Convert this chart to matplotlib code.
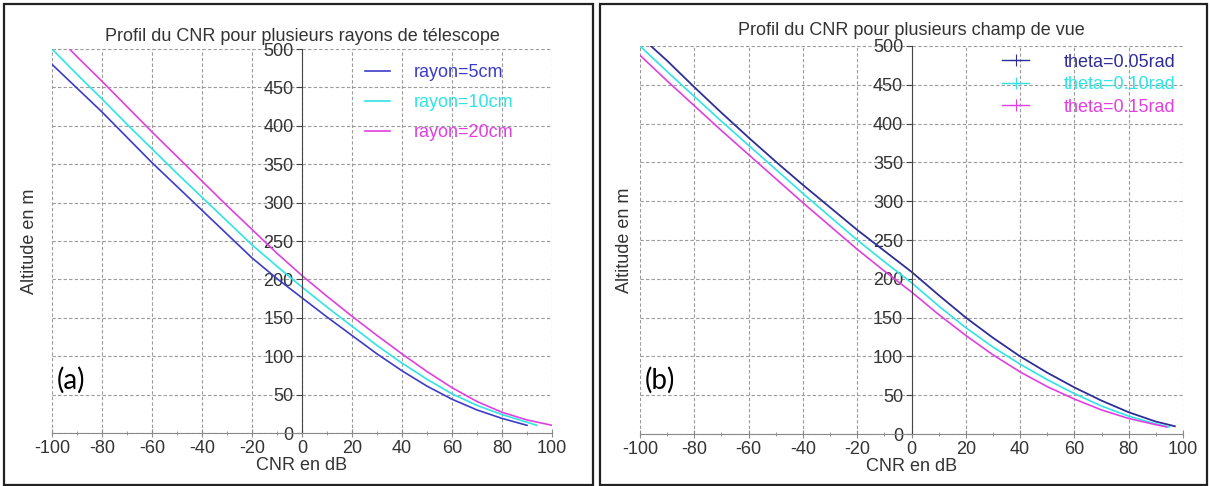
import matplotlib.pyplot as plt
from matplotlib.patches import Rectangle
from matplotlib.lines import Line2D
from matplotlib.ticker import MultipleLocator

plt.rcParams['font.family'] = ['Liberation Sans', 'DejaVu Sans']
plt.rcParams['axes.unicode_minus'] = False

# ---- data (CNR in dB, altitude in m) ----
# panel (a): telescope radius
cnr_r5 = [-100, -90, -80, -70, -60, -50, -40, -30, -20, -10, 0, 10, 20, 30, 40, 50, 60, 70, 80, 90]
alt_r5 = [480, 449, 418, 385, 352, 321, 290, 259, 228, 201, 176, 151, 127, 103, 81, 61, 44, 30, 19, 10]
cnr_r10 = [-100, -90, -80, -70, -60, -50, -40, -30, -20, -10, 0, 10, 20, 30, 40, 50, 60, 70, 80, 90, 94]
alt_r10 = [500, 467, 435, 402, 370, 338, 307, 276, 245, 217, 190, 164, 139, 114, 91, 70, 51, 36, 24, 14, 10]
cnr_r20 = [-93, -90, -80, -70, -60, -50, -40, -30, -20, -10, 0, 10, 20, 30, 40, 50, 60, 70, 80, 90, 100]
alt_r20 = [500, 490, 458, 425, 392, 360, 328, 296, 265, 234, 205, 178, 152, 127, 103, 80, 59, 41, 27, 17, 10]

# panel (b): field of view
cnr_t05 = [-96, -90, -80, -70, -60, -50, -40, -30, -20, -10, 0, 10, 20, 30, 40, 50, 60, 70, 80, 90, 97]
alt_t05 = [500, 481, 447, 414, 382, 351, 321, 292, 263, 236, 209, 179, 150, 124, 100, 79, 60, 43, 28, 16, 10]
cnr_t10 = [-100, -90, -80, -70, -60, -50, -40, -30, -20, -10, 0, 10, 20, 30, 40, 50, 60, 70, 80, 90, 95]
alt_t10 = [500, 467, 435, 403, 372, 341, 310, 280, 250, 222, 195, 165, 137, 112, 90, 70, 52, 36, 23, 13, 9]
cnr_t15 = [-100, -90, -80, -70, -60, -50, -40, -30, -20, -10, 0, 10, 20, 30, 40, 50, 60, 70, 80, 90, 94]
alt_t15 = [488, 455, 423, 391, 360, 329, 298, 268, 238, 210, 183, 154, 127, 102, 80, 61, 45, 31, 20, 12, 9]

labels_a = ['rayon=5cm', 'rayon=10cm', 'rayon=20cm']
labels_b = ['theta=0.05rad', 'theta=0.10rad', 'theta=0.15rad']
colors_a = ['#3c3cc8', '#30e4e4', '#e040e0']
colors_b = ['#2e2e96', '#30e4e4', '#e040e0']

xticks = list(range(-100, 101, 20))
yticks = list(range(0, 501, 50))

text_col = '#333333'
fs = 13


def setup_axes(ax, title, title_pad):
    ax.set_xlim(-100, 100)
    ax.set_ylim(0, 500)
    ax.set_xticks(xticks)
    ax.set_yticks(yticks)
    ax.xaxis.set_minor_locator(MultipleLocator(10))
    ax.grid(True, which='major', color='#9a9a9a', linestyle=(0, (3, 2)), linewidth=0.8)
    ax.set_axisbelow(True)
    ax.spines['top'].set_visible(False)
    ax.spines['right'].set_visible(False)
    ax.spines['left'].set_position(('data', 0))
    ax.spines['left'].set_color('#444444')
    ax.spines['bottom'].set_color('#8a8a8a')
    ax.tick_params(axis='y', direction='out', length=4, colors='#444444',
                   labelcolor=text_col, labelsize=fs, pad=2)
    ax.tick_params(axis='x', direction='inout', length=6, colors='#8a8a8a',
                   labelcolor=text_col, labelsize=fs, pad=2)
    ax.tick_params(axis='x', which='minor', direction='inout', length=3, colors='#8a8a8a')
    ax.set_title(title, fontsize=fs, color=text_col, pad=title_pad)
    ax.set_xlabel('CNR en dB', fontsize=fs, color=text_col, labelpad=0)
    ax.set_ylabel('Altitude en m', fontsize=fs, color=text_col)


fig = plt.figure(figsize=(12.1, 4.86), dpi=100)

# table cell borders
fig.add_artist(Rectangle((4 / 1210, 1 / 486), 589 / 1210, 481 / 486, transform=fig.transFigure,
                         fill=False, edgecolor='#222222', linewidth=1.6))
fig.add_artist(Rectangle((600 / 1210, 1 / 486), 607 / 1210, 481 / 486, transform=fig.transFigure,
                         fill=False, edgecolor='#222222', linewidth=1.6))

ax1 = fig.add_axes([52 / 1210, 53 / 486, 500 / 1210, 384 / 486])
ax2 = fig.add_axes([640 / 1210, 52 / 486, 543 / 1210, 388 / 486])

setup_axes(ax1, 'Profil du CNR pour plusieurs rayons de télescope', 6)
setup_axes(ax2, 'Profil du CNR pour plusieurs champ de vue', 8)

ax1.plot(cnr_r5, alt_r5, color=colors_a[0], linewidth=1.2, label=labels_a[0])
ax1.plot(cnr_r10, alt_r10, color=colors_a[1], linewidth=1.2, label=labels_a[1])
ax1.plot(cnr_r20, alt_r20, color=colors_a[2], linewidth=1.2, label=labels_a[2])

ax2.plot(cnr_t05, alt_t05, color=colors_b[0], linewidth=1.3)
ax2.plot(cnr_t10, alt_t10, color=colors_b[1], linewidth=1.2)
ax2.plot(cnr_t15, alt_t15, color=colors_b[2], linewidth=1.2)

ax1.yaxis.set_label_coords(-0.028, 0.5)
ax2.yaxis.set_label_coords(-0.013, 0.5)

leg1 = ax1.legend(loc='upper left', bbox_to_anchor=(0.626, 0.96), frameon=False, fontsize=fs,
                  handlelength=1.4, handletextpad=1.3, labelspacing=0.72, borderpad=0,
                  borderaxespad=0, labelcolor='linecolor')

handles_b = [Line2D([], [], color=c, linewidth=1.0, marker='+', markersize=9, markeredgewidth=0.8)
             for c in colors_b]
leg2 = ax2.legend(handles_b, labels_b, loc='upper left', bbox_to_anchor=(0.667, 0.98), frameon=False,
                  fontsize=fs, handlelength=1.5, handletextpad=1.9, labelspacing=0.3, borderpad=0,
                  borderaxespad=0, numpoints=1, labelcolor='linecolor')

fig.text(57 / 1210, 1 - 380 / 486, '(a)', fontsize=20, family=['Lato', 'DejaVu Sans'],
         color='black', va='center', ha='left')
fig.text(645 / 1210, 1 - 380 / 486, '(b)', fontsize=20, family=['Lato', 'DejaVu Sans'],
         color='black', va='center', ha='left')

fig.savefig('out.png', dpi=100)
